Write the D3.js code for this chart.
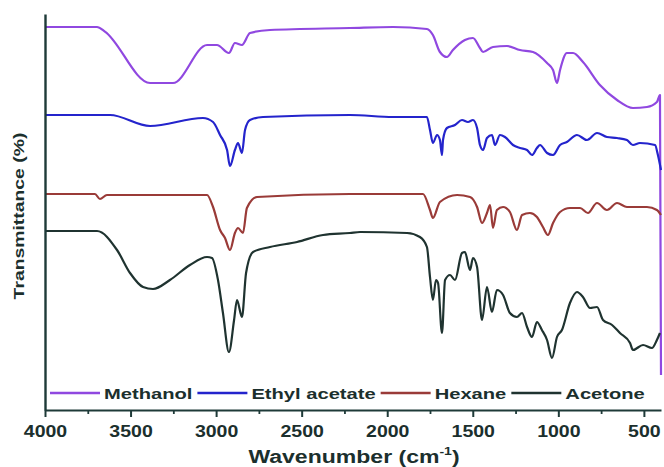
<!DOCTYPE html>
<html>
<head>
<meta charset="utf-8">
<script src="https://cdn.jsdelivr.net/npm/d3@7"></script>
<style>
  html, body { margin: 0; padding: 0; background: #fff; }
  svg { display: block; }
  text { font-family: "Liberation Sans", Arial, sans-serif; font-weight: bold; fill: #1b2f2d; }
</style>
</head>
<body>
<svg id="chart" width="664" height="467"></svg>
<script>
// ---- data (wavenumber in cm^-1, offset transmittance in arbitrary units) ----
const seriesNames = ["Methanol", "Ethyl acetate", "Hexane", "Acetone"];
const seriesColors = ["#9048e0", "#2424cc", "#9a3b38", "#1f3330"];

const methanol = [
  [4000,95.75],[3696,95.75],[3650,94.6],[3386,81.75],[3252,81.75],[3053,91.25],[2995,91.25],
  [2925,89.25],[2890,91.75],[2849,91.25],[2802,94.25],[2685,95],[2218,95.5],[1966,95.75],
  [1768,95.25],[1733,93.75],[1692,89.5],[1651,88.25],[1616,90],[1546,92.5],[1499,93],
  [1458,90.5],[1440,89.5],[1382,90.75],[1300,91],[1224,90],[1148,89.5],[1066,86.75],
  [1031,85],[1008,81.75],[990,85],[950,89.25],[914,89.25],[856,87],[757,81.25],[657,77.5],
  [564,75.5],[482,75.75],[424,77],[406,78.75],[400,8.75]
];
const ethylAcetate = [
  [4000,73.75],[3620,73.75],[3386,71],[3077,73],[3018,72],[2977,68.75],[2936,65],[2919,61],
  [2890,65],[2872,66.75],[2849,64.25],[2831,70],[2802,72.5],[2726,73.25],[2218,73.75],
  [1966,73.25],[1768,73.25],[1750,70],[1733,66.75],[1709,68.75],[1692,67.5],[1680,63.75],
  [1674,67.5],[1651,70.5],[1604,71.25],[1563,72.5],[1528,72],[1499,72.5],[1475,70.5],
  [1458,66.25],[1440,65],[1417,68],[1388,68.75],[1370,66.25],[1341,68.75],[1312,68.25],
  [1265,66.25],[1224,65.5],[1183,65],[1154,63.75],[1125,65.5],[1107,66.25],[1066,64.25],
  [1031,63.75],[990,66.25],[950,67],[891,68.75],[833,67.5],[774,69.25],[716,68.25],
  [657,68],[599,67.5],[564,66.25],[523,66.75],[435,66.25],[418,63.75],[400,60]
];
const hexane = [
  [4000,54],[3708,54],[3679,52.75],[3638,53.75],[3053,53.75],[3018,50.75],[2977,45],
  [2948,43],[2919,40],[2890,44.25],[2872,45.5],[2843,44.25],[2820,50.5],[2761,53.25],
  [2218,54],[1791,54],[1750,50],[1733,48],[1692,52],[1592,53.75],[1516,53.25],[1475,50.75],
  [1446,46.75],[1417,49.25],[1399,51.25],[1382,45.5],[1359,50],[1323,50.75],[1283,49.5],
  [1242,45],[1212,48.75],[1166,49.25],[1125,48.25],[1090,45.75],[1061,43.75],[1031,46.75],
  [990,49.5],[932,50.5],[873,50.5],[827,49.25],[774,51.75],[716,50],[657,51.75],[599,50.75],
  [482,50.75],[424,50],[400,48.75]
];
const acetone = [
  [4000,44.75],[3696,44.75],[3579,40],[3503,34.25],[3427,30.75],[3369,30.25],[3270,32.5],
  [3153,36.25],[3053,38.25],[3024,38],[2989,32.5],[2960,24.25],[2925,14.5],[2895,22.5],
  [2878,27.5],[2849,23.25],[2825,34.25],[2784,39.5],[2685,40.75],[2527,42],[2375,43.75],
  [2218,44.25],[2159,44.5],[1884,44.25],[1809,43.25],[1768,40.75],[1750,33.25],[1733,27.5],
  [1715,32.5],[1703,31.75],[1680,19.25],[1662,32.5],[1633,33.75],[1604,32.5],[1563,39.25],
  [1546,39.5],[1516,35],[1499,38],[1475,35.75],[1446,22.5],[1417,30.75],[1388,24.5],
  [1359,30],[1323,28.75],[1283,24.25],[1242,23.25],[1212,24.25],[1183,20.75],[1154,18.25],
  [1125,22],[1096,20],[1066,17.5],[1037,13],[1008,18.25],[979,20],[932,26.75],[891,29.5],
  [856,28.25],[815,25.5],[774,25.75],[739,22.5],[686,21.25],[640,19.25],[581,16.75],
  [564,15],[505,16.25],[453,15.5],[424,17.5],[406,19.25]
];
const seriesData = [methanol, ethylAcetate, hexane, acetone];

const majorTicks = [4000, 3500, 3000, 2500, 2000, 1500, 1000, 500];
const minorTicks = [3750, 3250, 2750, 2250, 1750, 1250, 750];
const xDomain = [4000, 400];
const yDomain = [0, 99];
const xTitle = "Wavenumber (cm";
const xTitleSup = "-1";
const yTitle = "Transmittance (%)";

// ---- drawing ----
const svg = d3.select("#chart");
const x = d3.scaleLinear().domain(xDomain).range([45, 661]);
const y = d3.scaleLinear().domain(yDomain).range([410, 14]);
const axisColor = "#1e3a38";

// series lines
const line = d3.line().x(d => x(d[0])).y(d => y(d[1])).curve(d3.curveMonotoneX);
svg.append("g").selectAll("path").data(seriesData).join("path")
  .attr("d", line)
  .attr("fill", "none")
  .attr("stroke", (d, i) => seriesColors[i])
  .attr("stroke-width", 2.2)
  .attr("stroke-linejoin", "round");

// minor ticks
svg.append("g").attr("transform", "translate(0,410)")
  .call(d3.axisBottom(x).tickValues(minorTicks).tickSize(4).tickSizeOuter(0).tickFormat(""))
  .call(g => g.select(".domain").remove())
  .call(g => g.selectAll("line").attr("stroke", axisColor).attr("stroke-width", 1.8));

// bottom axis
const gx = svg.append("g").attr("transform", "translate(0,410)")
  .call(d3.axisBottom(x).tickValues(majorTicks).tickSize(7).tickSizeOuter(0).tickFormat(d3.format("d")));
gx.select(".domain").attr("stroke", axisColor).attr("stroke-width", 2.2);
gx.selectAll("line").attr("stroke", axisColor).attr("stroke-width", 2);
gx.selectAll("text")
  .attr("y", 27).attr("dy", null)
  .attr("transform", "scale(1.22,1)")
  .style("font-size", "16px").style("font-weight", "bold").style("fill", "#1b2f2d");

// left axis
const gy = svg.append("g").attr("transform", "translate(45,0)")
  .call(d3.axisLeft(y).tickValues([]).tickSizeOuter(0));
gy.select(".domain").attr("stroke", axisColor).attr("stroke-width", 2.4);

// axis titles
const xt = svg.append("text")
  .attr("transform", "translate(354,463) scale(1.28,1)")
  .attr("text-anchor", "middle")
  .style("font-size", "18px");
xt.append("tspan").text(xTitle);
xt.append("tspan").text(xTitleSup).style("font-size", "11px").attr("dy", -8);
xt.append("tspan").text(")").attr("dy", 8);

svg.append("text")
  .attr("transform", "translate(24,216) rotate(-90) scale(1.25,1)")
  .attr("text-anchor", "middle")
  .style("font-size", "15.5px")
  .text(yTitle);

// legend
const legendG = svg.append("g");
let lx = 50;
const legendY = 393;
const textScale = 1.3;
seriesNames.forEach((name, i) => {
  legendG.append("line")
    .attr("x1", lx).attr("x2", lx + 50)
    .attr("y1", legendY).attr("y2", legendY)
    .attr("stroke", seriesColors[i]).attr("stroke-width", 2.4);
  lx += 54;
  const t = legendG.append("text")
    .attr("transform", `translate(${lx},399) scale(${textScale},1)`)
    .style("font-size", "15.5px")
    .text(name);
  lx += t.node().getComputedTextLength() * textScale + 5;
});
</script>
</body>
</html>
